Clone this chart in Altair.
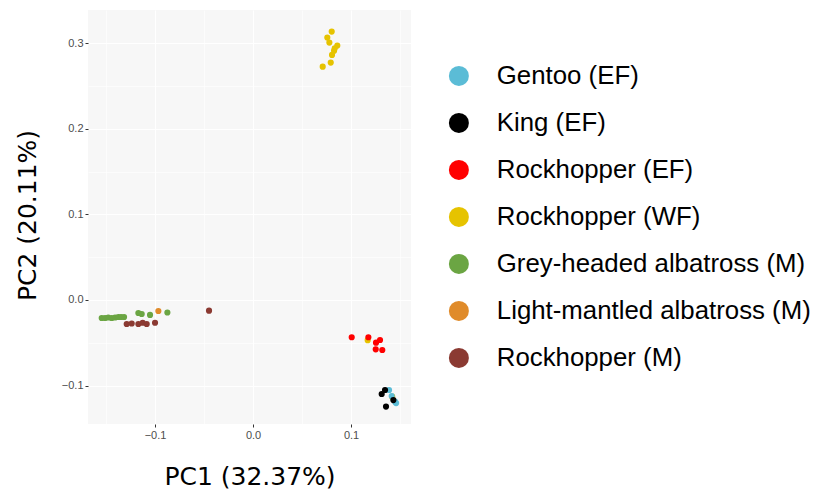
import altair as alt
import pandas as pd

species = ["Gentoo (EF)", "King (EF)", "Rockhopper (EF)", "Rockhopper (WF)",
           "Grey-headed albatross (M)", "Light-mantled albatross (M)", "Rockhopper (M)"]
colors = ["#5BBCD6", "#000000", "#FF0000", "#E6C300", "#6BA543", "#E08B2A", "#8B3A32"]

gentoo_x = [0.1388, 0.1415, 0.1449, 0.1460]
gentoo_y = [-0.1053, -0.1123, -0.1189, -0.1205]

king_x = [0.1347, 0.1313, 0.1432, 0.1357]
king_y = [-0.1053, -0.1099, -0.1170, -0.1246]

rock_ef_x = [0.1007, 0.1177, 0.1255, 0.1296, 0.1252, 0.1319]
rock_ef_y = [-0.0436, -0.0436, -0.0499, -0.0468, -0.0577, -0.0585]

rock_wf_x = [0.0803, 0.0758, 0.0779, 0.0860, 0.0834, 0.0827, 0.0806, 0.0793, 0.0711, 0.1170, 0.1420]
rock_wf_y = [0.3138, 0.3068, 0.3009, 0.2974, 0.2943, 0.2915, 0.2865, 0.2775, 0.2728, -0.0470, -0.1130]

grey_x = [-0.1544, -0.1510, -0.1477, -0.1442, -0.1408, -0.1374, -0.1347, -0.1316,
          -0.1170, -0.1136, -0.1051, -0.0874]
grey_y = [-0.0211, -0.0211, -0.0205, -0.0211, -0.0205, -0.0199, -0.0199, -0.0199,
          -0.0152, -0.0164, -0.0175, -0.0146]

light_x = [-0.0966]
light_y = [-0.0129]

rock_m_x = [-0.1289, -0.1238, -0.1170, -0.1126, -0.1085, -0.1000, -0.0449]
rock_m_y = [-0.0281, -0.0275, -0.0281, -0.0266, -0.0281, -0.0266, -0.0125]

groups = [
    ("Rockhopper (WF)", rock_wf_x, rock_wf_y),
    ("Gentoo (EF)", gentoo_x, gentoo_y),
    ("King (EF)", king_x, king_y),
    ("Rockhopper (EF)", rock_ef_x, rock_ef_y),
    ("Grey-headed albatross (M)", grey_x, grey_y),
    ("Light-mantled albatross (M)", light_x, light_y),
    ("Rockhopper (M)", rock_m_x, rock_m_y),
]
rows = []
for name, xs, ys in groups:
    for x, y in zip(xs, ys):
        rows.append({"PC1": x, "PC2": y, "Species": name})
df = pd.DataFrame(rows)

x_vals = [-0.15, -0.1, -0.05, 0.0, 0.05, 0.1, 0.15]
y_vals = [-0.1, -0.05, 0.0, 0.05, 0.1, 0.15, 0.2, 0.25, 0.3]

major = "abs(round(datum.value*20)) % 2 == 0"
label_expr = "abs(round(datum.value*20)) % 2 == 0 ? format(datum.value, '.1f') : ''"


def make_axis(vals, title, **kw):
    return alt.Axis(
        values=vals, title=title, labelExpr=label_expr,
        grid=True, gridColor="#FFFFFF",
        gridWidth={"condition": {"test": major, "value": 1.2}, "value": 0.6},
        tickOpacity={"condition": {"test": major, "value": 1}, "value": 0},
        tickColor="#333333", tickSize=3, tickWidth=1,
        domain=False, labelColor="#4D4D4D", labelFontSize=11,
        labelFont="Liberation Sans", labelPadding=2,
        titleFont="DejaVu Sans", titleFontSize=25, titleFontWeight="normal",
        titleColor="#000000", **kw)


chart = alt.Chart(df).mark_circle(size=38, opacity=1).encode(
    x=alt.X("PC1:Q", scale=alt.Scale(domain=[-0.1684, 0.1612], nice=False, zero=False),
            axis=make_axis(x_vals, "PC1 (32.37%)", titleY=60, titleBaseline="alphabetic",
                           titleX=161.5, titleAlign="center")),
    y=alt.Y("PC2:Q", scale=alt.Scale(domain=[-0.145, 0.339], nice=False, zero=False),
            axis=make_axis(y_vals, "PC2 (20.11%)", titleX=-53, titleY=205,
                           titleBaseline="alphabetic", titleAlign="center", titleAngle=270)),
    color=alt.Color("Species:N", sort=species,
                    scale=alt.Scale(domain=species, range=colors),
                    legend=alt.Legend(title=None, orient="none", legendX=358, legendY=53,
                                      symbolSize=400, symbolType="circle",
                                      symbolStrokeWidth=0,
                                      labelFont="Liberation Sans", labelFontSize=25.8,
                                      labelColor="#000000", labelLimit=500,
                                      labelOffset=25, rowPadding=20, padding=0)),
).properties(
    width=323, height=414,
    autosize=alt.AutoSizeParams(type="none"),
    padding={"left": 80, "top": 2, "right": 410, "bottom": 65},
    background="#FFFFFF",
).configure_view(fill="#F7F7F7", strokeWidth=0, stroke="transparent")

chart.save("out.html", embed_options={"renderer": "svg", "actions": False})
